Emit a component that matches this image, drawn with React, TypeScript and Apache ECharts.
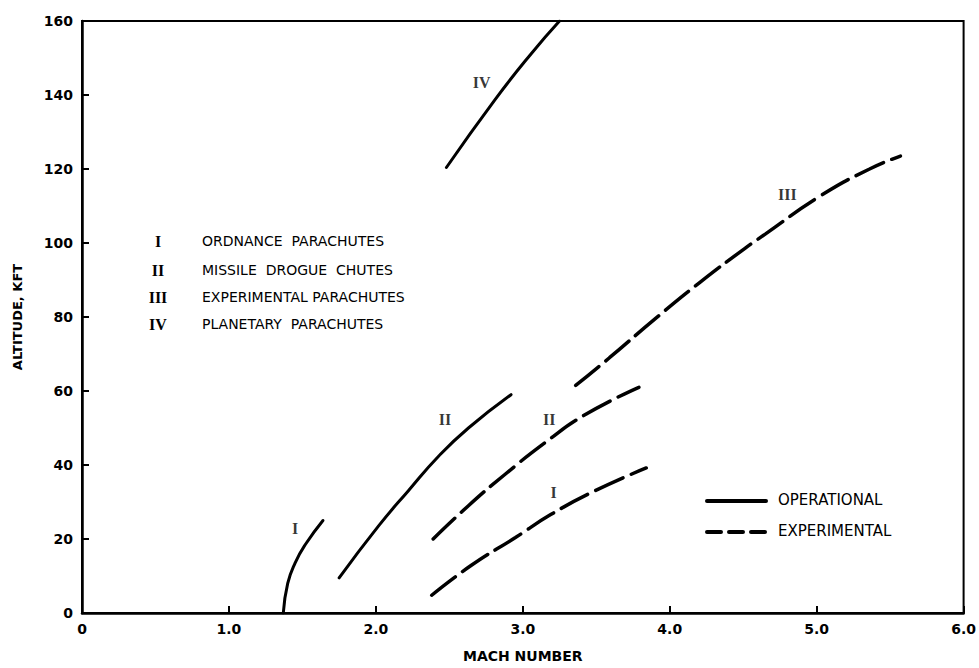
import React, { useEffect, useRef } from "react";
import * as echarts from "echarts";

// Mach number / altitude (kft)
const ordOpMach = [1.37, 1.40, 1.45, 1.52, 1.64];
const ordOpAlt = [0, 8, 13.5, 18.5, 25];

const drogueOpMach = [1.75, 2.02, 2.22, 2.43, 2.63, 2.92];
const drogueOpAlt = [9.5, 23.6, 33, 42.5, 50, 59];

const drogueExpMach = [2.39, 2.63, 2.88, 3.15, 3.42, 3.79];
const drogueExpAlt = [20, 29, 37.5, 46, 53.5, 61];

const ordExpMach = [2.38, 2.65, 2.95, 3.19, 3.49, 3.84];
const ordExpAlt = [4.8, 12.9, 20.4, 26.6, 33, 39.2];

const expParMach = [3.36, 3.59, 3.9, 4.21, 4.51, 4.65, 5.02, 5.36, 5.57];
const expParAlt = [61.5, 69, 79.5, 89.5, 98.5, 102.4, 112.6, 120, 123.5];

const planOpMach = [2.48, 2.81, 3.06, 3.25];
const planOpAlt = [120.4, 138.7, 151.3, 160];

// Curve labels (roman numerals) in data coordinates
const labelText = ["I", "II", "II", "I", "III", "IV"];
const labelMach = [1.45, 2.47, 3.18, 3.21, 4.8, 2.72];
const labelAlt = [22.8, 52.4, 52.4, 32.5, 113.2, 143.5];

// Key
const keyNumerals = ["I", "II", "III", "IV"];
const keyNames = [
  "ORDNANCE  PARACHUTES",
  "MISSILE  DROGUE  CHUTES",
  "EXPERIMENTAL PARACHUTES",
  "PLANETARY  PARACHUTES",
];
const styleNames = ["OPERATIONAL", "EXPERIMENTAL"];

const xTicks = ["0", "1.0", "2.0", "3.0", "4.0", "5.0", "6.0"];

const pairs = (xs: number[], ys: number[]) => xs.map((x, i) => [x, ys[i]]);

export default function App() {
  const ref = useRef<HTMLDivElement>(null);
  useEffect(() => {
    if (!ref.current) return;
    const chart = echarts.init(ref.current, null, { renderer: "svg" });
    const sans = "DejaVu Sans";
    const serif = "Liberation Serif";
    const solid = (name: string, xs: number[], ys: number[]) => ({
      type: "line",
      name,
      data: pairs(xs, ys),
      smooth: 0.5,
      showSymbol: false,
      lineStyle: { color: "#000", width: 3, type: "solid", cap: "round" },
      silent: true,
    });
    const dashed = (name: string, xs: number[], ys: number[]) => ({
      type: "line",
      name,
      data: pairs(xs, ys),
      smooth: 0.5,
      showSymbol: false,
      lineStyle: { color: "#000", width: 3.5, type: [30, 9], cap: "round" },
      silent: true,
    });
    const rowY = [241, 270, 297, 324];
    const graphics: any[] = [];
    keyNumerals.forEach((n, i) => {
      graphics.push({
        type: "text",
        x: 158,
        y: rowY[i],
        style: {
          text: n,
          font: `bold 16px "${serif}"`,
          fill: "#000",
          align: "center",
          verticalAlign: "middle",
        },
      });
      graphics.push({
        type: "text",
        x: 202,
        y: rowY[i],
        style: {
          text: keyNames[i],
          font: `14px "${sans}"`,
          fill: "#000",
          align: "left",
          verticalAlign: "middle",
        },
      });
    });
    const legY = [501, 532];
    styleNames.forEach((s, i) => {
      graphics.push({
        type: "line",
        shape: { x1: 707, y1: legY[i], x2: 766, y2: legY[i] },
        style: {
          stroke: "#000",
          lineWidth: 4,
          lineCap: "round",
          lineDash: i === 0 ? null : [14, 8],
        },
      });
      graphics.push({
        type: "text",
        x: 778,
        y: legY[i] - 1,
        style: {
          text: s,
          font: `15px "${sans}"`,
          fill: "#000",
          align: "left",
          verticalAlign: "middle",
        },
      });
    });

    chart.setOption({
      animation: false,
      backgroundColor: "#fff",
      grid: {
        left: 82,
        right: 12,
        top: 21,
        bottom: 52,
        show: true,
        borderColor: "#000",
        borderWidth: 2,
        backgroundColor: "transparent",
      },
      xAxis: {
        type: "value",
        min: 0,
        max: 6,
        interval: 1,
        name: "MACH NUMBER",
        nameLocation: "middle",
        nameGap: 36,
        nameTextStyle: { fontFamily: sans, fontSize: 14, fontWeight: "bold", color: "#000" },
        axisLine: { show: true, lineStyle: { color: "#000", width: 2.5 } },
        axisTick: { show: true, inside: true, length: 7, lineStyle: { color: "#000", width: 2 } },
        axisLabel: {
          color: "#000",
          fontFamily: sans,
          fontSize: 14,
          fontWeight: "bold",
          margin: 9,
          formatter: (v: number) => xTicks[Math.round(v)],
        },
        splitLine: { show: false },
      },
      yAxis: {
        type: "value",
        min: 0,
        max: 160,
        interval: 20,
        name: "ALTITUDE, KFT",
        nameLocation: "middle",
        nameRotate: 90,
        nameGap: 58,
        nameTextStyle: { fontFamily: sans, fontSize: 13, fontWeight: "bold", color: "#000" },
        axisLine: { show: true, lineStyle: { color: "#000", width: 2.5 } },
        axisTick: { show: true, inside: true, length: 7, lineStyle: { color: "#000", width: 2 } },
        axisLabel: {
          color: "#000",
          fontFamily: sans,
          fontSize: 14,
          fontWeight: "bold",
          margin: 9,
        },
        splitLine: { show: false },
      },
      graphic: graphics,
      series: [
        solid("I operational", ordOpMach, ordOpAlt),
        solid("II operational", drogueOpMach, drogueOpAlt),
        solid("IV operational", planOpMach, planOpAlt),
        dashed("II experimental", drogueExpMach, drogueExpAlt),
        dashed("I experimental", ordExpMach, ordExpAlt),
        dashed("III experimental", expParMach, expParAlt),
        {
          type: "scatter",
          name: "labels",
          symbolSize: 0,
          silent: true,
          data: labelMach.map((x, i) => ({ value: [x, labelAlt[i]], name: labelText[i] })),
          label: {
            show: true,
            position: "inside",
            formatter: (p: any) => p.name,
            color: "#000",
            fontFamily: serif,
            fontWeight: "bold",
            fontSize: 16,
          },
        },
      ],
    });
    return () => chart.dispose();
  }, []);
  return (
    <div
      ref={ref}
      style={{ position: "fixed", left: 0, top: 0, width: 979, height: 668, background: "#fff" }}
    />
  );
}
